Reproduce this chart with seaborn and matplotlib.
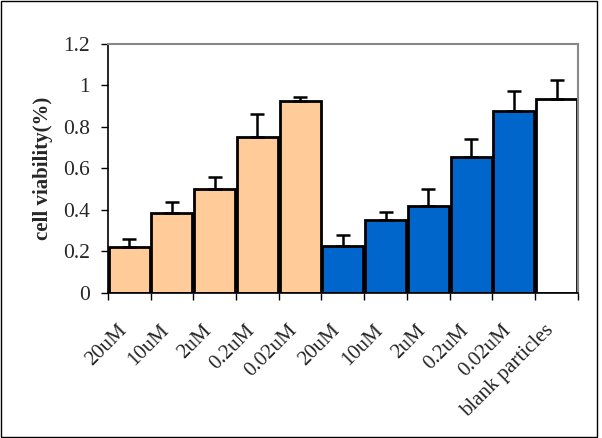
import numpy as np
import pandas as pd
import matplotlib.pyplot as plt
import matplotlib.transforms as mtransforms
import seaborn as sns

labels = ['20uM', '10uM', '2uM', '0.2uM', '0.02uM',
          '20uM', '10uM', '2uM', '0.2uM', '0.02uM', 'blank particles']
groups = ['free'] * 5 + ['loaded'] * 5 + ['blank']
viability = [0.22, 0.385, 0.50, 0.75, 0.925,
             0.225, 0.35, 0.42, 0.655, 0.875, 0.935]
errors = [0.04, 0.055, 0.06, 0.11, 0.02,
          0.055, 0.04, 0.08, 0.085, 0.10, 0.09]
colors = {'free': '#FFCC99', 'loaded': '#0066CC', 'blank': '#FFFFFF'}

df = pd.DataFrame({'id': [f'{i}' for i in range(len(labels))],
                   'label': labels, 'group': groups, 'value': viability})

sns.set_style('white')
plt.rcParams['font.family'] = ['Liberation Serif', 'DejaVu Serif']
plt.rcParams['font.serif'] = ['Liberation Serif', 'DejaVu Serif']

fig = plt.figure(figsize=(6.02, 4.38), dpi=100)
ax = fig.add_axes([0.179, 0.331, 0.781, 0.569])

sns.barplot(data=df, x='id', y='value', hue='group', palette=colors,
            dodge=False, width=0.96, edgecolor='black', linewidth=2,
            saturation=1, legend=False, ax=ax)

xpos = np.arange(len(labels))
ax.errorbar(xpos, viability, yerr=[np.zeros(len(errors)), errors], fmt='none',
            ecolor='black', elinewidth=1.8, capsize=4.8, capthick=1.8, zorder=5)

ax.set_xlim(-0.5, len(labels) - 0.5)
ax.set_ylim(0, 1.2)
ax.set_yticks(np.arange(0, 1.21, 0.2))
ax.set_yticklabels(['0', '0.2', '0.4', '0.6', '0.8', '1', '1.2'], fontsize=15.5)
ax.set_xticks(xpos)
ax.set_xticklabels(labels, rotation=45, ha='right', rotation_mode='anchor', fontsize=15)
ax.set_xticks(np.arange(-0.5, len(labels), 1.0), minor=True)
ax.tick_params(axis='x', which='major', length=0, pad=20)
ax.tick_params(axis='x', which='minor', length=5, width=1, color='black', direction='out', bottom=True)
ax.tick_params(axis='y', length=5, width=1, color='black', direction='out', left=True, pad=8)
shift = mtransforms.ScaledTranslation(-0.12, 0, fig.dpi_scale_trans)
for lbl in ax.get_xticklabels():
    lbl.set_transform(lbl.get_transform() + shift)
ax.set_xlabel('')
ax.set_ylabel('cell viability(%)', fontsize=15, fontweight='bold', labelpad=7)

for side in ['left', 'bottom']:
    ax.spines[side].set_color('black')
    ax.spines[side].set_linewidth(1.2)
for side in ['top', 'right']:
    ax.spines[side].set_color('#888888')
    ax.spines[side].set_linewidth(1.5)

fig.patches.append(plt.Rectangle((0.002, 0.002), 0.99, 0.995, transform=fig.transFigure,
                                 fill=False, edgecolor='black', linewidth=1))

plt.savefig('out.png', dpi=100)
